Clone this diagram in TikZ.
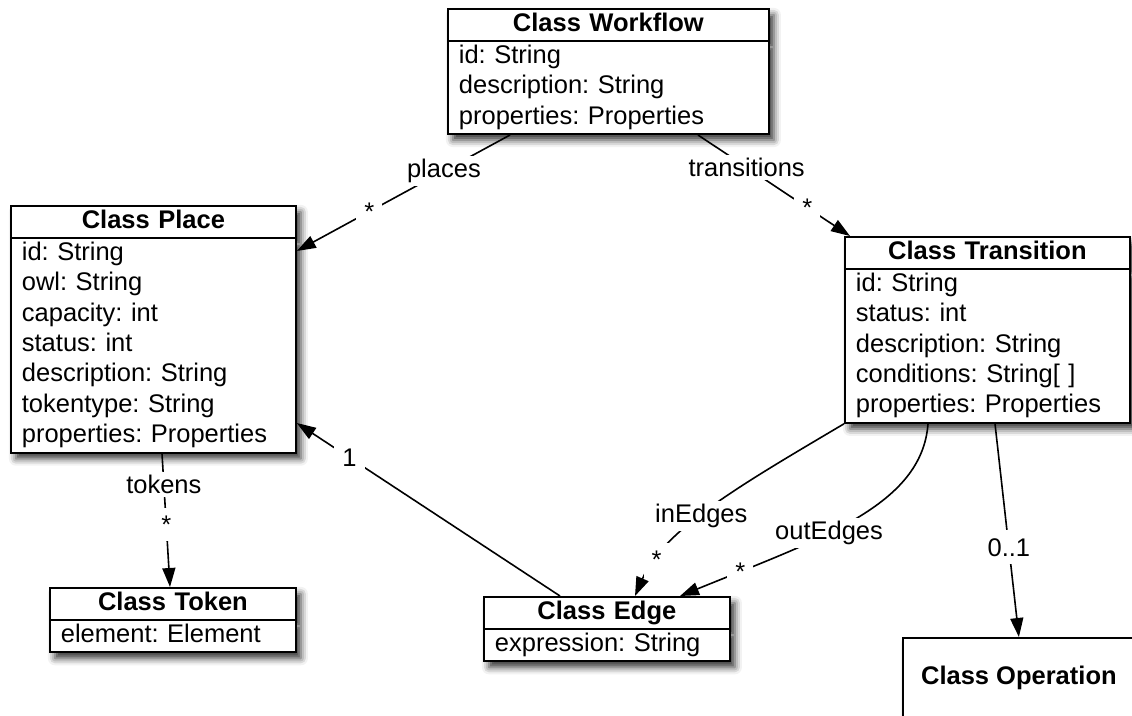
\documentclass[tikz,border=0pt]{standalone}
\usepackage{fontspec}
\setmainfont{Liberation Sans}
\usetikzlibrary{calc, positioning, arrows.meta, shapes.multipart, shadows.blur}

\begin{document}
\frenchspacing
\begin{tikzpicture}[
    x=1pt, y=-1pt,
    font=\fontsize{25.5}{30.4}\selectfont,
    % ---------------------------------------------------------
    % ESTILOS
    % ---------------------------------------------------------
    classbox/.style={
        draw=black,
        fill=white,
        line width=1.8pt,
        anchor=north west,
        blur shadow={shadow xshift=5pt, shadow yshift=-6pt, shadow blur radius=7pt, shadow opacity=80}
    },
    umlclass/.style={
        classbox,
        rectangle split,
        rectangle split parts=2,
        text width=#1,
        align=left,
        inner xsep=11pt,
        inner ysep=0pt
    },
    assoc/.style={
        line width=1.6pt,
        -{Triangle[length=19pt, width=13pt]}
    },
    role/.style={fill=white, inner xsep=12pt, inner ysep=3pt},
    mult/.style={fill=white, inner sep=8pt}
]
\useasboundingbox (0,0) rectangle (1132,715);

% ---------------------------------------------------------
% 1. CLASES
% ---------------------------------------------------------
\node[umlclass=299pt] (workflow) at (447,8)
    {\strut\hfill\textbf{Class Workflow}\hfill\strut
     \nodepart{two}\strut id: String\\description: String\\properties: Properties\strut};

\node[umlclass=263pt] (place) at (10,205)
    {\strut\hfill\textbf{Class Place}\hfill\strut
     \nodepart{two}\strut id: String\\owl: String\\capacity: int\\status: int\\description: String\\tokentype: String\\properties: Properties\strut};

\node[umlclass=263pt] (transition) at (844,236)
    {\strut\hfill\textbf{Class Transition}\hfill\strut
     \nodepart{two}\strut id: String\\status: int\\description: String\\conditions: String[ ]\\properties: Properties\strut};

\node[umlclass=224pt] (token) at (49,587)
    {\strut\hfill\textbf{Class Token}\hfill\strut
     \nodepart{two}\strut element: Element\strut};

\node[umlclass=224pt] (edge) at (483,596)
    {\strut\hfill\textbf{Class Edge}\hfill\strut
     \nodepart{two}\strut expression: String\strut};

\node[classbox, minimum width=232pt, minimum height=80pt] (operation) at (902,637)
    {\textbf{Class Operation}};

% ---------------------------------------------------------
% 2. ASOCIACIONES
% ---------------------------------------------------------
% Workflow -> Place
\draw[assoc] ($(workflow.south west)+(63,0)$) -- node[role, pos=0.31] {places} node[mult, pos=0.66] {*} ($(place.north east)+(0,46)$);

% Workflow -> Transition
\draw[assoc] ($(workflow.south west)+(251,0)$) -- node[role, pos=0.32] {transitions} node[mult, pos=0.72] {*} ($(transition.north west)+(6,0)$);

% Place -> Token
\draw[assoc] ($(place.south west)+(152,0)$) -- node[role, pos=0.23] {tokens} node[mult, pos=0.53] {*} ($(token.north west)+(121,0)$);

% Edge -> Place
\draw[assoc] ($(edge.north west)+(77,0)$) -- node[mult, pos=0.80] {1} ($(place.north east)+(0,218)$);

% Transition -> Edge (inEdges / outEdges)
\draw[assoc] (transition.south west) .. controls +(-103,61) and +(29,-67) .. node[role, pos=0.55] {inEdges} node[mult, pos=0.81] {*} ($(edge.north west)+(152,0)$);
\draw[assoc] ($(transition.south west)+(84,0)$) .. controls +(-6,82) and +(140,-57) .. node[role, pos=0.59] {outEdges} node[mult, pos=0.85] {*} ($(edge.north west)+(197,0)$);

% Transition -> Operation
\draw[assoc] ($(transition.south west)+(151,0)$) -- node[mult, pos=0.58] {0..1} (operation.north);

\end{tikzpicture}
\end{document}
